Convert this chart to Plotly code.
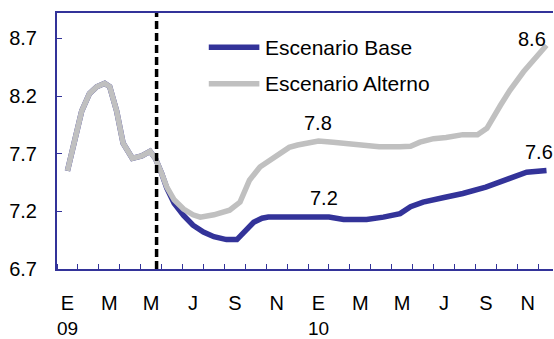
import plotly.graph_objects as go

# Meses desde enero 2009 (0 = ene-09, 12 = ene-10); valores fraccionarios = datos dentro del mes
mes_base = [0.0, 0.35, 0.68, 1.05, 1.4, 1.78, 2.02, 2.35, 2.66, 3.1, 3.55, 3.95, 4.2,
            4.5, 4.75, 5.1, 5.55, 6.0, 6.5, 7.0, 7.6, 8.1, 8.5, 8.9, 9.3, 9.6, 10.6,
            12.0, 12.5, 13.2, 14.3, 15.1, 15.9, 16.4, 17.0, 18.0, 18.9, 20.0, 21.0,
            21.95, 22.9]
escenario_base = [7.55, 7.80, 8.07, 8.22, 8.28, 8.31, 8.28, 8.07, 7.79, 7.66, 7.68, 7.72, 7.66,
                  7.53, 7.40, 7.27, 7.165, 7.08, 7.02, 6.98, 6.955, 6.955, 7.03, 7.105, 7.14, 7.15, 7.15,
                  7.15, 7.15, 7.13, 7.13, 7.15, 7.18, 7.24, 7.28, 7.32, 7.355, 7.41, 7.48,
                  7.54, 7.555]

mes_alterno = [0.0, 0.35, 0.68, 1.05, 1.4, 1.78, 2.02, 2.35, 2.66, 3.1, 3.55, 3.95, 4.2,
               4.5, 4.75, 5.1, 5.55, 6.0, 6.35, 7.0, 7.75, 8.25, 8.7, 9.2, 10.0, 10.6, 11.0,
               12.0, 12.7, 13.7, 14.9, 15.9, 16.4, 16.85, 17.5, 18.1, 18.9, 19.6, 20.05,
               20.7, 21.15, 21.8, 22.3, 22.9]
escenario_alterno = [7.55, 7.80, 8.07, 8.22, 8.28, 8.31, 8.28, 8.07, 7.79, 7.66, 7.68, 7.72, 7.66,
                     7.53, 7.41, 7.30, 7.22, 7.17, 7.15, 7.17, 7.21, 7.28, 7.47, 7.585, 7.685, 7.755, 7.775,
                     7.81, 7.80, 7.78, 7.76, 7.76, 7.765, 7.80, 7.83, 7.84, 7.865, 7.865, 7.92,
                     8.12, 8.25, 8.41, 8.52, 8.64]

# Fecha de corte del pronóstico (línea punteada)
mes_corte = 4.26

# Etiquetas del eje horizontal
mes_etiquetas = [0, 2, 4, 6, 8, 10, 12, 14, 16, 18, 20, 22]
texto_meses = ["E", "M", "M", "J", "S", "N", "E", "M", "M", "J", "S", "N"]
anios = {0: "09", 12: "10"}

y_ticks = [6.7, 7.2, 7.7, 8.2, 8.7]

AZUL = "#333399"
GRIS = "#C0C0C0"
FUENTE = "Liberation Sans, Arial, sans-serif"

fig = go.Figure()
fig.add_trace(go.Scatter(x=mes_base, y=escenario_base, mode="lines",
                         name="Escenario Base", line=dict(color=AZUL, width=5.5),
                         showlegend=False))
fig.add_trace(go.Scatter(x=mes_alterno, y=escenario_alterno, mode="lines",
                         name="Escenario Alterno", line=dict(color=GRIS, width=5.5),
                         showlegend=False))

# Línea vertical punteada en la fecha de corte
fig.add_shape(type="line", xref="x", yref="paper", x0=mes_corte, x1=mes_corte, y0=0, y1=1,
              line=dict(color="black", width=3.5, dash="8px,4px"))

# Valores destacados
def etiqueta(x, y, xs, ys):
    fig.add_annotation(x=x, y=y, text=f"{y:.1f}", showarrow=False, xshift=xs, yshift=ys,
                       font=dict(family=FUENTE, size=20, color="black"),
                       xanchor="center", yanchor="middle")

i = mes_alterno.index(12.0)
etiqueta(mes_alterno[i], escenario_alterno[i], 0, 18)
j = mes_base.index(12.0)
etiqueta(mes_base[j], escenario_base[j], 6, 19)
etiqueta(mes_alterno[-1], escenario_alterno[-1], -15, 6)
etiqueta(mes_base[-1], escenario_base[-1], -8, 18)

# Años bajo el eje
for m, a in anios.items():
    fig.add_annotation(x=m, y=-0.232, xref="x", yref="paper", text=a, showarrow=False,
                       font=dict(family=FUENTE, size=19, color="black"),
                       xanchor="center", yanchor="middle")

# Leyenda
leyenda = [("Escenario Base", AZUL, 0.866), ("Escenario Alterno", GRIS, 0.724)]
for nombre, color, yp in leyenda:
    fig.add_shape(type="line", xref="paper", yref="paper", x0=0.306, x1=0.408, y0=yp, y1=yp,
                  line=dict(color=color, width=5.5))
    fig.add_annotation(x=0.415, y=yp, xref="paper", yref="paper", text=nombre, showarrow=False,
                       font=dict(family=FUENTE, size=21, color="black"),
                       xanchor="left", yanchor="middle")

fig.update_layout(
    width=554, height=339,
    margin=dict(l=57, r=1, t=13, b=70),
    paper_bgcolor="white", plot_bgcolor="white",
    font=dict(family=FUENTE, size=20, color="black"),
)
fig.update_xaxes(
    range=[-0.5, 23.21], showgrid=False, zeroline=False,
    showline=True, linecolor=AZUL, linewidth=2, mirror=True,
    tickmode="array", tickvals=mes_etiquetas, ticktext=texto_meses,
    ticks="", ticklabelstandoff=15,
    minor=dict(tick0=-0.5, dtick=1, ticks="inside", ticklen=5, tickcolor=AZUL, tickwidth=1),
)
fig.update_yaxes(
    range=[6.7, 8.92], showgrid=False, zeroline=False,
    showline=True, linecolor=AZUL, linewidth=2,
    tickmode="array", tickvals=y_ticks, ticktext=[f"{v:.1f}" for v in y_ticks],
    ticks="inside", ticklen=5, tickcolor=AZUL, tickwidth=1, ticklabelstandoff=14,
)

fig.write_html("out.html")
